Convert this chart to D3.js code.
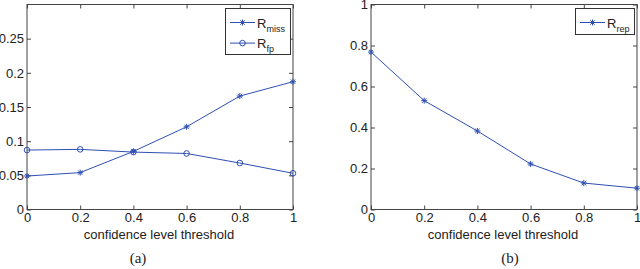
<!DOCTYPE html>
<html>
<head>
<meta charset="utf-8">
<script src="https://cdn.jsdelivr.net/npm/d3@7"></script>
<style>
  body { margin: 0; background: #fff; }
  svg { display: block; font-family: "Liberation Sans", Arial, sans-serif; }
</style>
</head>
<body>
<svg id="chart" width="640" height="269"></svg>
<script>
// data
var thresholds = [0, 0.2, 0.4, 0.6, 0.8, 1];
var rMiss = [0.049, 0.054, 0.085, 0.121, 0.166, 0.187];
var rFp = [0.087, 0.088, 0.084, 0.082, 0.068, 0.053];
var rRep = [0.768, 0.531, 0.383, 0.222, 0.129, 0.104];

var xTicks = [0, 0.2, 0.4, 0.6, 0.8, 1];
var yTicksA = [0, 0.05, 0.1, 0.15, 0.2, 0.25];
var yTicksB = [0, 0.2, 0.4, 0.6, 0.8, 1];

var lineColor = '#2f4fb4';
var svg = d3.select('#chart');

function star(g, x, y) {
    var s = 3;
    g.append('path')
        .attr('d', 'M' + (x - s) + ',' + y + 'H' + (x + s) +
                   'M' + x + ',' + (y - s) + 'V' + (y + s) +
                   'M' + (x - 2.2) + ',' + (y - 2.2) + 'L' + (x + 2.2) + ',' + (y + 2.2) +
                   'M' + (x - 2.2) + ',' + (y + 2.2) + 'L' + (x + 2.2) + ',' + (y - 2.2))
        .attr('stroke', lineColor).attr('stroke-width', 1).attr('fill', 'none');
}
function circ(g, x, y) {
    g.append('circle').attr('cx', x).attr('cy', y).attr('r', 2.8)
        .attr('stroke', lineColor).attr('stroke-width', 1).attr('fill', 'none');
}

function panel(opt) {
    var g = svg.append('g');
    var x = d3.scaleLinear().domain([0, 1]).range([opt.x0, opt.x1]);
    var y = d3.scaleLinear().domain(opt.ydom).range([opt.y0, opt.y1]);

    // frame
    g.append('rect')
        .attr('x', opt.x0).attr('y', opt.y1)
        .attr('width', opt.x1 - opt.x0).attr('height', opt.y0 - opt.y1)
        .attr('fill', 'none').attr('stroke', '#444').attr('stroke-width', 1);

    // axes, ticks inward on all sides
    var fmt = function(d) { return d3.format('~g')(d); };
    var xa = g.append('g').attr('transform', 'translate(0,' + opt.y0 + ')')
        .call(d3.axisBottom(x).tickValues(xTicks).tickSize(-4).tickPadding(3).tickFormat(fmt));
    var xt = g.append('g').attr('transform', 'translate(0,' + opt.y1 + ')')
        .call(d3.axisTop(x).tickValues(xTicks).tickSize(-4).tickFormat(''));
    var ya = g.append('g').attr('transform', 'translate(' + opt.x0 + ',0)')
        .call(d3.axisLeft(y).tickValues(opt.yticks).tickSize(-4).tickPadding(3).tickFormat(fmt));
    var yr = g.append('g').attr('transform', 'translate(' + opt.x1 + ',0)')
        .call(d3.axisRight(y).tickValues(opt.yticks).tickSize(-4).tickFormat(''));
    [xa, xt, ya, yr].forEach(function(a) {
        a.select('.domain').remove();
        a.selectAll('line').attr('stroke', '#444');
        a.selectAll('text').attr('fill', '#222').style('font-size', '13px');
    });

    opt.series.forEach(function(s) {
        var line = d3.line()
            .x(function(d, i) { return x(thresholds[i]); })
            .y(function(d) { return y(d); });
        g.append('path').datum(s.values)
            .attr('d', line).attr('fill', 'none')
            .attr('stroke', lineColor).attr('stroke-width', 1);
        s.values.forEach(function(v, i) { s.marker(g, x(thresholds[i]), y(v)); });
    });

    g.append('text').attr('x', (opt.x0 + opt.x1) / 2 - 1).attr('y', 238.5)
        .attr('text-anchor', 'middle').attr('fill', '#222').style('font-size', '13px')
        .text('confidence level threshold');
    g.append('text').attr('x', opt.capX).attr('y', 263)
        .attr('text-anchor', 'middle').attr('fill', '#222')
        .style('font-family', '"Liberation Serif", serif').style('font-size', '15px')
        .text(opt.caption);

    // legend
    var lg = g.append('g');
    lg.append('rect').attr('x', opt.leg[0]).attr('y', opt.leg[1])
        .attr('width', opt.leg[2]).attr('height', opt.leg[3])
        .attr('fill', '#fff').attr('stroke', '#333').attr('stroke-width', 1);
    opt.series.forEach(function(s, i) {
        var ly = opt.leg[1] + 14 + i * 20.6;
        var lx = opt.leg[0] + 4.5;
        lg.append('line').attr('x1', lx).attr('x2', lx + 25).attr('y1', ly).attr('y2', ly)
            .attr('stroke', lineColor).attr('stroke-width', 1);
        s.marker(lg, lx + 12.5, ly);
        var t = lg.append('text').attr('x', lx + 27).attr('y', ly + 5)
            .attr('fill', '#222').style('font-size', '13px');
        t.append('tspan').text('R');
        t.append('tspan').attr('dy', 4).style('font-size', '9px').text(s.sub);
    });
}

panel({
    x0: 27, x1: 293, y0: 209.5, y1: 4.5,
    ydom: [0, 0.3], yticks: yTicksA,
    series: [
        { values: rMiss, marker: star, sub: 'miss' },
        { values: rFp, marker: circ, sub: 'fp' }
    ],
    leg: [225.5, 8.5, 65, 46],
    caption: '(a)', capX: 138
});

panel({
    x0: 371, x1: 637, y0: 209.5, y1: 4.5,
    ydom: [0, 1], yticks: yTicksB,
    series: [
        { values: rRep, marker: star, sub: 'rep' }
    ],
    leg: [575.5, 8.5, 59, 26],
    caption: '(b)', capX: 510
});
</script>
</body>
</html>
